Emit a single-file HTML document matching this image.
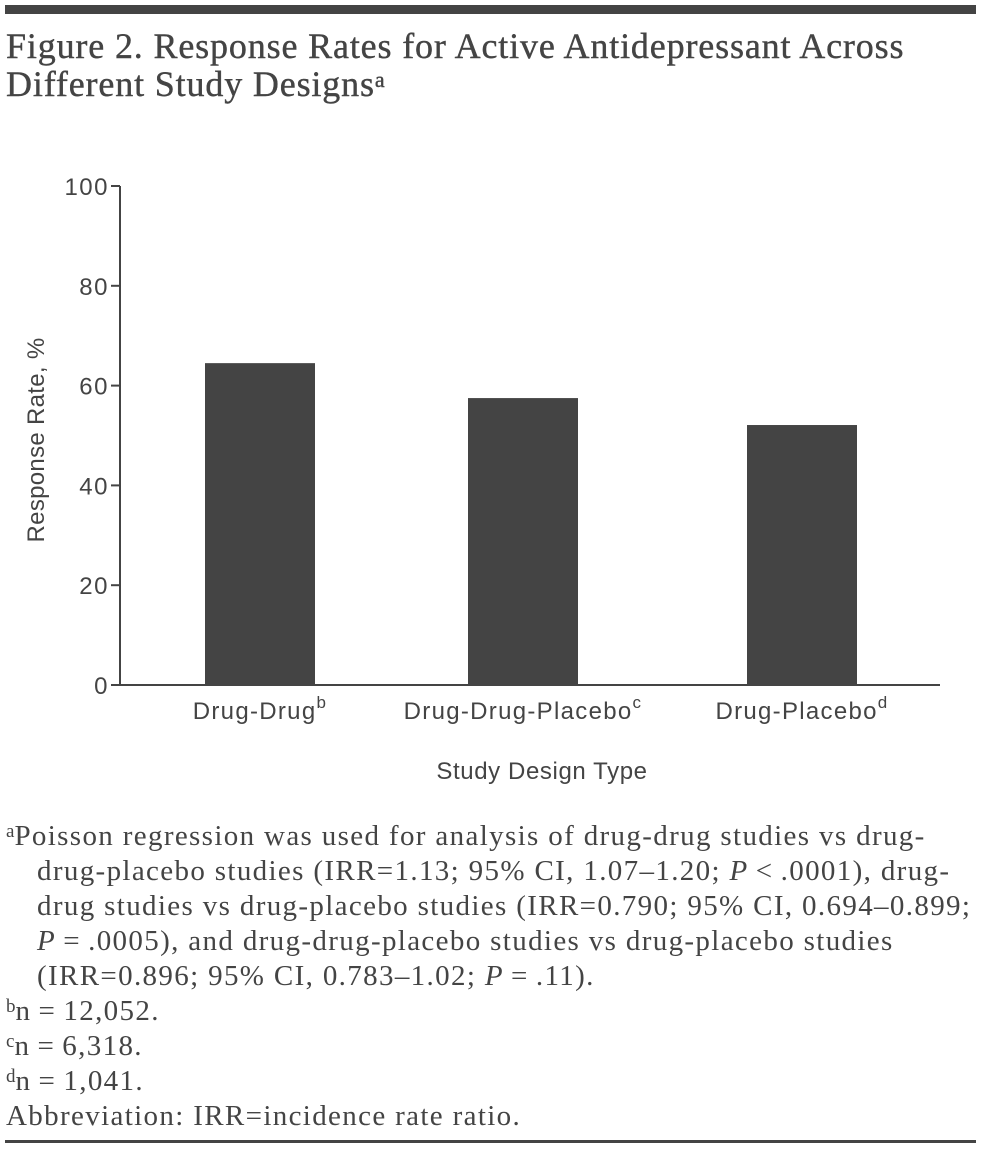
<!DOCTYPE html>
<html><head><meta charset="utf-8"><style>
body{margin:0;width:982px;height:1149px;background:#fff;position:relative;overflow:hidden;color:#444}
.bar{position:absolute;left:5px;width:971px;background:#444}
.t{position:absolute;left:6px;font-family:"Liberation Serif",serif;font-weight:normal;font-size:36px;line-height:38px;margin:0;letter-spacing:0.85px;white-space:nowrap;-webkit-text-stroke:0.4px #444}
.fn{position:absolute;left:6px;top:819px;font-family:"Liberation Serif",serif;font-size:29px;line-height:35px;margin:0;white-space:nowrap;letter-spacing:1.35px}
.fn sup{font-size:19px;vertical-align:top;position:relative;top:-5px;letter-spacing:0}
.ind{padding-left:31px}
svg{position:absolute;left:0;top:0}
</style></head><body>
<div class="bar" style="top:5px;height:9px"></div>
<h1 class="t" style="top:27px">Figure 2. Response Rates for Active Antidepressant Across<br>Different Study Designs<sup style="font-size:22px;vertical-align:top;position:relative;top:-4px;letter-spacing:0">a</sup></h1>
<svg id="chart" width="982" height="800" font-family="Liberation Sans, sans-serif"></svg>
<div class="fn">
<div><sup>a</sup>Poisson regression was used for analysis of drug-drug studies vs drug-</div>
<div class="ind">drug-placebo studies (IRR=1.13; 95% CI, 1.07–1.20; <i>P</i>&thinsp;&lt;&thinsp;.0001), drug-</div>
<div class="ind">drug studies vs drug-placebo studies (IRR=0.790; 95% CI, 0.694–0.899;</div>
<div class="ind"><i>P</i>&thinsp;=&thinsp;.0005), and drug-drug-placebo studies vs drug-placebo studies</div>
<div class="ind">(IRR=0.896; 95% CI, 0.783–1.02; <i>P</i>&thinsp;=&thinsp;.11).</div>
<div><sup>b</sup>n&thinsp;=&thinsp;12,052.</div>
<div><sup>c</sup>n&thinsp;=&thinsp;6,318.</div>
<div><sup>d</sup>n&thinsp;=&thinsp;1,041.</div>
<div>Abbreviation: IRR=incidence rate ratio.</div>
</div>
<div class="bar" style="top:1140px;height:3px"></div>
<script>
const categories=["Drug-Drug","Drug-Drug-Placebo","Drug-Placebo"];
const supers=["b","c","d"];
const values=[64.5,57.5,52.1];
const ticks=[0,20,40,60,80,100];
const svg=document.getElementById('chart');
const NS='http://www.w3.org/2000/svg';
const y0=685,y1=186,xL=120,xR=940;
const centers=[260,523,802],bw=110;
function y(v){return y0-(v/100)*(y0-y1);}
function mk(t,a,txt){const e=document.createElementNS(NS,t);for(const k in a)e.setAttribute(k,a[k]);if(txt!=null)e.textContent=txt;svg.appendChild(e);return e;}
values.forEach((v,i)=>{const r=mk('rect',{x:centers[i]-bw/2,y:y(v),width:bw,height:y0-y(v),fill:'#444'});

});
const ax=mk('line',{x1:xL,y1:y1,x2:xL,y2:y0,stroke:'#444','stroke-width':2});


const xa=mk('line',{x1:xL,y1:y0,x2:xR,y2:y0,stroke:'#444','stroke-width':2});


ticks.forEach(t=>{mk('line',{x1:xL-9,y1:y(t),x2:xL,y2:y(t),stroke:'#444','stroke-width':2});
const l=mk('text',{x:xL-11,y:y(t)+9,'text-anchor':'end','font-size':24,'letter-spacing':1.5,fill:'#444'},t);

});
categories.forEach((c,i)=>{const l=mk('text',{x:centers[i],y:719,'text-anchor':'middle','font-size':24,'letter-spacing':1.3,fill:'#444'});


l.innerHTML=c+'<tspan font-size="17" dy="-11">'+supers[i]+'</tspan>';});
const xt=mk('text',{x:542,y:779,'text-anchor':'middle','font-size':24,'letter-spacing':0.6,fill:'#444'},'Study Design Type');


const yt=mk('text',{x:0,y:0,'text-anchor':'middle','font-size':24,'letter-spacing':0.3,fill:'#444',transform:'translate(44,440) rotate(-90)'},'Response Rate, %');


</script>
</body></html>
